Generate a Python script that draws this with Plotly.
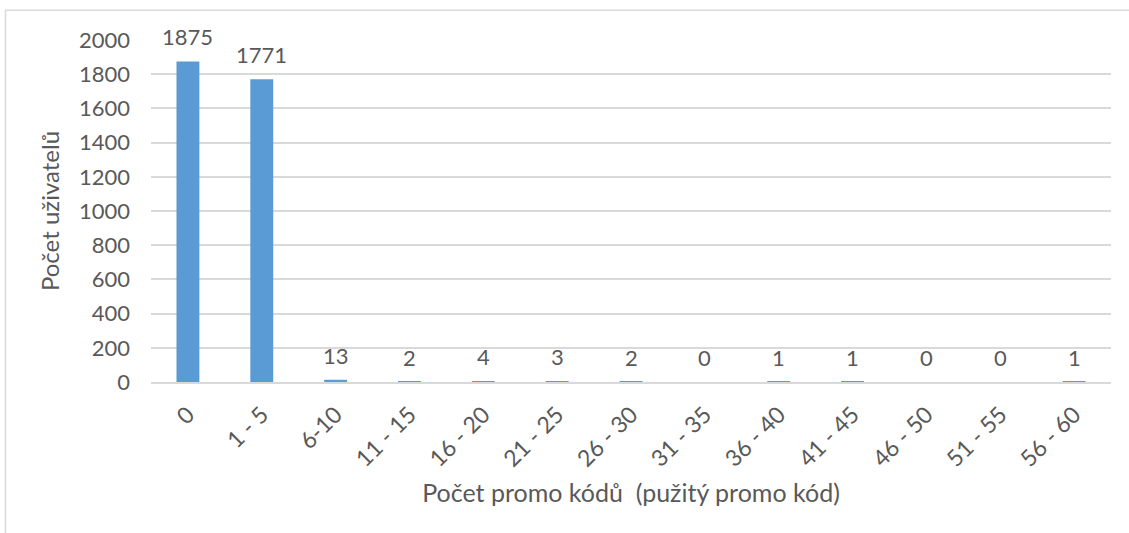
import plotly.graph_objects as go

# Distribution of users by number of used promo codes
categories = ["0", "1 - 5", "6-10", "11 - 15", "16 - 20", "21 - 25", "26 - 30",
              "31 - 35", "36 - 40", "41 - 45", "46 - 50", "51 - 55", "56 - 60"]
users = [1875, 1771, 13, 2, 4, 3, 2, 0, 1, 1, 0, 0, 1]
y_ticks = [0, 200, 400, 600, 800, 1000, 1200, 1400, 1600, 1800, 2000]

FONT = "Lato"
TEXT = "#595959"
GRID = "#D9D9D9"
BAR = "#5B9BD5"

fig = go.Figure()
fig.add_trace(go.Bar(
    x=categories,
    y=users,
    marker=dict(color=BAR, line=dict(width=0)),
    hoverinfo="x+y",
))

# Value labels above each bar
for cat, val in zip(categories, users):
    fig.add_annotation(
        x=cat, y=val, text=str(val), showarrow=False,
        yanchor="bottom", yshift=9,
        font=dict(family=FONT, size=22, color=TEXT),
    )

# Light frame around the chart area
fig.add_shape(
    type="rect", xref="paper", yref="paper",
    x0=-0.1516, x1=1.05, y0=-0.6, y1=1.0868,
    line=dict(color=GRID, width=1.5), fillcolor="rgba(0,0,0,0)", layer="below",
)

fig.update_layout(
    width=1129, height=533,
    margin=dict(l=151, r=18, t=40, b=151),
    paper_bgcolor="white", plot_bgcolor="white",
    bargap=0.69,
    showlegend=False,
    font=dict(family=FONT, size=22, color=TEXT),
    xaxis=dict(
        tickangle=-45,
        showgrid=False,
        showline=True, linecolor=GRID, linewidth=2, layer="above traces",
        ticks="", ticklabelstandoff=8,
        tickfont=dict(family=FONT, size=23, color=TEXT),
        title=dict(text="Počet promo kódů\u00a0 (pužitý promo kód)",
                   font=dict(family=FONT, size=25, color=TEXT), standoff=14),
    ),
    yaxis=dict(
        range=[0, 2000],
        tickvals=y_ticks,
        showgrid=True, gridcolor=GRID, gridwidth=1.5,
        zeroline=False,
        ticks="", ticklabelstandoff=20,
        tickfont=dict(family=FONT, size=22, color=TEXT),
        title=dict(text="Počet uživatelů",
                   font=dict(family=FONT, size=24, color=TEXT), standoff=12),
    ),
)

fig.write_html("out.html")
